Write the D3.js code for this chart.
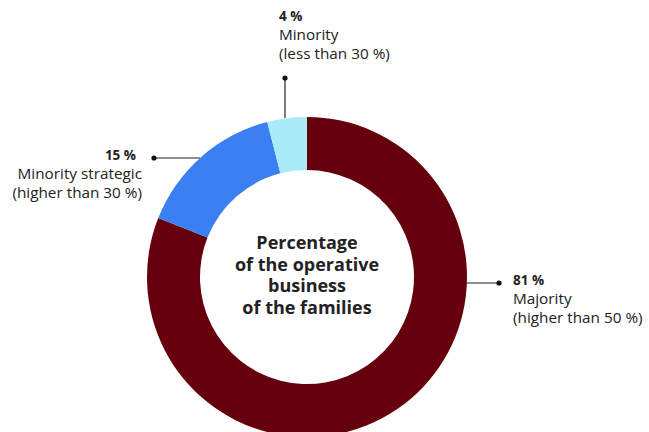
<!DOCTYPE html>
<html>
<head>
<meta charset="utf-8">
<script src="https://cdn.jsdelivr.net/npm/d3@7"></script>
<style>
  html, body { margin: 0; padding: 0; background: #fff; }
  svg { display: block; font-family: "Open Sans", Lato, sans-serif; }
</style>
</head>
<body>
<svg id="chart" width="649" height="432"></svg>
<script>
// Share of the families' operative business, by type of holding
const categories = ["Majority", "Minority strategic", "Minority"];
const notes = ["(higher than 50 %)", "(higher than 30 %)", "(less than 30 %)"];
const shares = [81, 15, 4];
const colors = ["#66000c", "#3a80f2", "#a9ebf8"];
const centerTitle = ["Percentage", "of the operative", "business", "of the families"];

const svg = d3.select("#chart");
const cx = 307, cy = 277, outerR = 160, innerR = 107;

const data = categories.map((c, i) => ({ name: c, note: notes[i], value: shares[i], color: colors[i] }));

const pie = d3.pie().value(d => d.value).sort(null);
const arc = d3.arc().innerRadius(innerR).outerRadius(outerR);
const arcs = pie(data);

const g = svg.append("g").attr("transform", `translate(${cx},${cy})`);

g.selectAll("path.slice")
  .data(arcs)
  .join("path")
  .attr("class", "slice")
  .attr("d", arc)
  .attr("fill", d => d.data.color);

// Centre caption
const ct = g.append("text")
  .attr("text-anchor", "middle")
  .attr("font-weight", "bold")
  .attr("font-size", 18)
  .attr("fill", "#222");
centerTitle.forEach((t, i) => {
  ct.append("tspan").attr("x", 0).attr("y", -28 + i * 21.5).text(t);
});

// Callouts: leader line from the ring to a dot, then a label block
const callouts = [
  { idx: 0, line: [[outerR - 1, 6], [192, 6]], anchor: "start", tx: 206, dx: 0, ty: 8 },
  { idx: 1, line: [[-107, -119], [-153, -119]], anchor: "end", tx: -171, dx: 6, ty: -117 },
  { idx: 2, line: [[-22, -159], [-22, -199]], anchor: "start", tx: -28, dx: 0, ty: -256 }
];

callouts.forEach(c => {
  const d = data[c.idx];
  g.append("line")
    .attr("x1", c.line[0][0]).attr("y1", c.line[0][1])
    .attr("x2", c.line[1][0]).attr("y2", c.line[1][1])
    .attr("stroke", "#222").attr("stroke-width", 1.2);
  g.append("circle")
    .attr("cx", c.line[1][0]).attr("cy", c.line[1][1])
    .attr("r", 2.6).attr("fill", "#111");
  const t = g.append("text")
    .attr("text-anchor", c.anchor)
    .attr("fill", "#222")
    .attr("font-size", 15.3);
  t.append("tspan").attr("x", c.tx).attr("y", c.ty)
    .attr("font-weight", "bold").attr("font-size", 13.5)
    .text(d3.format("d")(d.value) + " %");
  t.append("tspan").attr("x", c.tx + c.dx).attr("y", c.ty + 19).text(d.name);
  t.append("tspan").attr("x", c.tx + c.dx).attr("y", c.ty + 37.5).text(d.note);
});
</script>
</body>
</html>
